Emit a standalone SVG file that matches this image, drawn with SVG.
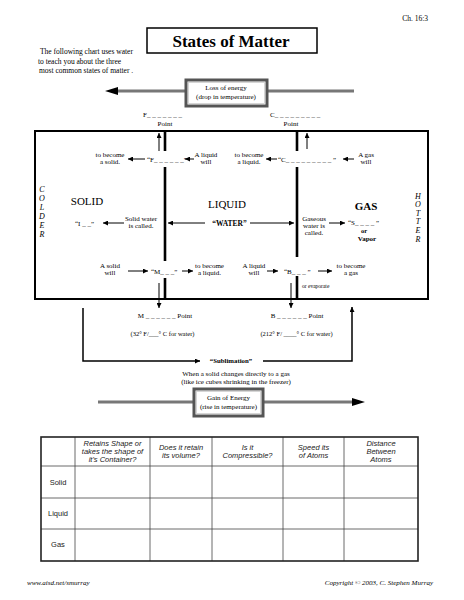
<svg xmlns="http://www.w3.org/2000/svg" width="464" height="600" viewBox="0 0 464 600">
<defs>
<style>
.s{font-family:"Liberation Serif",serif;fill:#000}
.sm{font-size:7px;text-anchor:middle}
.st{font-size:7px}
.b{font-weight:bold}
.it{font-style:italic}
.t{font-family:"Liberation Sans",sans-serif;font-size:7.5px;text-anchor:middle;fill:#222}
.ln{stroke:#000;stroke-width:1;fill:none}
.dv{stroke:#000;stroke-width:2.6;fill:none}
.en{stroke:#777;stroke-width:3;fill:none}
.eb{fill:#fff;stroke:#555;stroke-width:3}
.ei{fill:none;stroke:#ccc;stroke-width:0.8}
.tg{stroke:#444;stroke-width:0.8;fill:none}
</style>
<marker id="ah" viewBox="0 0 10 10" refX="10" refY="5" markerWidth="6" markerHeight="5" markerUnits="userSpaceOnUse" orient="auto"><path d="M0,0 L10,5 L0,10 z" fill="#000"/></marker>
</defs>
<rect width="464" height="600" fill="#fff"/>

<g id="header">
<text class="s" x="428" y="21" font-size="7.5" text-anchor="end">Ch. 16:3</text>
<rect x="147" y="28" width="170" height="25" fill="none" stroke="#000" stroke-width="1.5"/>
<text class="s b" x="231" y="47" font-size="17" text-anchor="middle">States of Matter</text>
<text class="s" font-size="7.5"><tspan x="40" y="54">The following chart uses water</tspan><tspan x="38" y="64">to teach you about the three</tspan><tspan x="39" y="73">most common states of matter .</tspan></text>
</g>

<g id="loss-energy">
<line class="en" x1="116" y1="91" x2="354" y2="91"/>
<path d="M105,91 L118,87 L118,95 z" fill="#000"/>
<rect class="eb" x="186" y="80" width="81" height="26"/>
<rect class="ei" x="188.5" y="82.5" width="76" height="21"/>
<text class="s sm"><tspan x="226" y="90">Loss of energy</tspan><tspan x="226" y="99">(drop in temperature)</tspan></text>
</g>

<g id="freezing-point">
<text class="s st" x="143" y="117">F_ _ _ _ _ _ _</text>
<text class="s sm" x="165" y="126">Point</text>
</g>
<g id="condensation-point">
<text class="s st" x="270" y="117">C_ _ _ _ _ _ _ _ _</text>
<text class="s sm" x="291" y="126">Point</text>
</g>

<g id="states-box">
<rect x="35" y="131" width="393" height="168" fill="none" stroke="#000" stroke-width="2"/>
<path class="dv" d="M165,131 V151 M165,167 V261 M165,278 V299"/>
<path class="dv" d="M297,131 V151 M297,167 V257 M297,276 V299"/>
<text class="s it" font-size="8" text-anchor="middle"><tspan x="42" y="192">C</tspan><tspan x="42" y="201">O</tspan><tspan x="42" y="210">L</tspan><tspan x="42" y="219">D</tspan><tspan x="42" y="228">E</tspan><tspan x="42" y="237">R</tspan></text>
<text class="s it" font-size="8" text-anchor="middle"><tspan x="418" y="199">H</tspan><tspan x="418" y="207">O</tspan><tspan x="418" y="216">T</tspan><tspan x="418" y="224">T</tspan><tspan x="418" y="233">E</tspan><tspan x="418" y="242">R</tspan></text>
</g>

<g id="solid">
<text class="s" x="87" y="205" font-size="11" text-anchor="middle">SOLID</text>
<text class="s st" x="75" y="226">“I _ _”</text>
<text class="s sm"><tspan x="141" y="221">Solid water</tspan><tspan x="141" y="228">is called.</tspan></text>
</g>
<g id="liquid">
<text class="s" x="227" y="208" font-size="11" text-anchor="middle">LIQUID</text>
<text class="s b sm" x="229.5" y="226" style="font-size:7.5px">“WATER”</text>
</g>
<g id="gas">
<text class="s b" x="366" y="210" font-size="11" text-anchor="middle">GAS</text>
<text class="s sm"><tspan x="314" y="221">Gaseous</tspan><tspan x="314" y="228">water is</tspan><tspan x="314" y="235">called.</tspan></text>
<text class="s st" x="348" y="225">“S_ _ _ _ ”</text>
<text class="s b sm" x="364" y="233" style="font-size:6.5px">or</text>
<text class="s b sm" x="367" y="241">Vapor</text>
</g>

<g id="freezing">
<text class="s sm"><tspan x="110" y="157">to become</tspan><tspan x="110" y="164">a solid.</tspan></text>
<text class="s st" x="147" y="162">“F_ _ _ _ _ _”</text>
<text class="s sm"><tspan x="206" y="157">A liquid</tspan><tspan x="206" y="164">will</tspan></text>
</g>
<g id="condensation">
<text class="s sm"><tspan x="249" y="157">to become</tspan><tspan x="249" y="164">a liquid.</tspan></text>
<text class="s st" x="278" y="162">“C_ _ _ _ _ _ _ _ _ ”</text>
<text class="s sm"><tspan x="366" y="157">A gas</tspan><tspan x="366" y="164">will</tspan></text>
</g>
<g id="melting">
<text class="s sm"><tspan x="110" y="268">A solid</tspan><tspan x="110" y="275">will</tspan></text>
<text class="s st" x="151" y="274">“M_ _ _”</text>
<text class="s sm"><tspan x="209.5" y="268">to become</tspan><tspan x="209.5" y="275">a liquid.</tspan></text>
</g>
<g id="boiling">
<text class="s sm"><tspan x="254" y="268">A liquid</tspan><tspan x="254" y="275">will</tspan></text>
<text class="s st" x="284" y="274">“B_ _ _ ”</text>
<text class="s sm"><tspan x="351" y="268">to become</tspan><tspan x="351" y="275">a gas</tspan></text>
<text class="s" x="302" y="288" font-size="5.5">or evaporate</text>
</g>

<g id="melting-point">
<text class="s sm" x="165" y="318">M _ _ _ _ _ _ Point</text>
<text class="s sm" x="162.5" y="336" style="font-size:6.5px">(32° F/___° C for water)</text>
</g>
<g id="boiling-point">
<text class="s sm" x="297" y="318">B _ _ _ _ _ _ Point</text>
<text class="s sm" x="296.5" y="336" style="font-size:6.5px">(212° F/ ____° C for water)</text>
</g>

<g id="sublimation">
<text class="s b sm" x="231" y="363" style="font-size:6.8px">“Sublimation”</text>
<text class="s sm"><tspan x="236" y="376">When a solid changes directly to a gas</tspan><tspan x="236" y="384">(like ice cubes shrinking in the freezer)</tspan></text>
</g>

<g id="connectors">
<line class="ln" x1="159" y1="151" x2="159" y2="133" marker-end="url(#ah)"/>
<line class="ln" x1="307" y1="149" x2="307" y2="133" marker-end="url(#ah)"/>
<line class="ln" x1="145" y1="159" x2="128" y2="159" marker-end="url(#ah)"/>
<line class="ln" x1="194" y1="159" x2="185" y2="159" marker-end="url(#ah)"/>
<line class="ln" x1="277" y1="159" x2="266" y2="159" marker-end="url(#ah)"/>
<line class="ln" x1="354" y1="159" x2="343" y2="159" marker-end="url(#ah)"/>
<line class="ln" x1="124" y1="223" x2="103" y2="223" marker-end="url(#ah)"/>
<line class="ln" x1="205" y1="223" x2="168" y2="223" marker-end="url(#ah)"/>
<line class="ln" x1="250" y1="223" x2="294" y2="223" marker-end="url(#ah)"/>
<line class="ln" x1="329" y1="223" x2="345" y2="223" marker-end="url(#ah)"/>
<line class="ln" x1="128" y1="271" x2="148" y2="271" marker-end="url(#ah)"/>
<line class="ln" x1="182" y1="271" x2="193" y2="271" marker-end="url(#ah)"/>
<line class="ln" x1="267" y1="271" x2="278" y2="271" marker-end="url(#ah)"/>
<line class="ln" x1="318" y1="271" x2="332" y2="271" marker-end="url(#ah)"/>
<line class="ln" x1="159" y1="283" x2="159" y2="308" marker-end="url(#ah)"/>
<line class="ln" x1="291" y1="283" x2="291" y2="308" marker-end="url(#ah)"/>
<path d="M83,308 V361 H200" stroke="#000" stroke-width="1.5" fill="none" marker-end="url(#ah)"/>
<path d="M263,361 H352 V307" stroke="#000" stroke-width="1.5" fill="none" marker-end="url(#ah)"/>
</g>

<g id="gain-energy">
<line class="en" x1="98" y1="402" x2="354" y2="402"/>
<path d="M365,402 L352,398 L352,406 z" fill="#000"/>
<rect class="eb" x="194" y="389" width="69" height="27"/>
<rect class="ei" x="196.5" y="391.5" width="64" height="22"/>
<text class="s sm"><tspan x="228.5" y="400">Gain of Energy</tspan><tspan x="228.5" y="409">(rise in temperature)</tspan></text>
</g>

<g id="table">
<path class="tg" d="M75,437 V561 M150,437 V561 M212,437 V561 M283,437 V561 M344,437 V561 M41,466 H418 M41,498 H418 M41,529 H418"/>
<rect x="41" y="437" width="377" height="124" fill="none" stroke="#222" stroke-width="1.6"/>
<text class="t it"><tspan x="112.5" y="446">Retains Shape or</tspan><tspan x="112.5" y="454">takes the shape of</tspan><tspan x="112.5" y="462">it's Container?</tspan></text>
<text class="t it"><tspan x="181" y="450">Does it retain</tspan><tspan x="181" y="458">its volume?</tspan></text>
<text class="t it"><tspan x="247.5" y="450">Is it</tspan><tspan x="247.5" y="458">Compressible?</tspan></text>
<text class="t it"><tspan x="313.5" y="450">Speed its</tspan><tspan x="313.5" y="458">of Atoms</tspan></text>
<text class="t it"><tspan x="381" y="446">Distance</tspan><tspan x="381" y="454">Between</tspan><tspan x="381" y="462">Atoms</tspan></text>
<text class="t" x="58" y="485">Solid</text>
<text class="t" x="58" y="516">Liquid</text>
<text class="t" x="58" y="547">Gas</text>
</g>

<g id="footer">
<text class="s it" x="27" y="585" font-size="7">www.aisd.net/smurray</text>
<text class="s it" x="433" y="585" font-size="7" text-anchor="end">Copyright © 2003, C. Stephen Murray</text>
</g>
</svg>
